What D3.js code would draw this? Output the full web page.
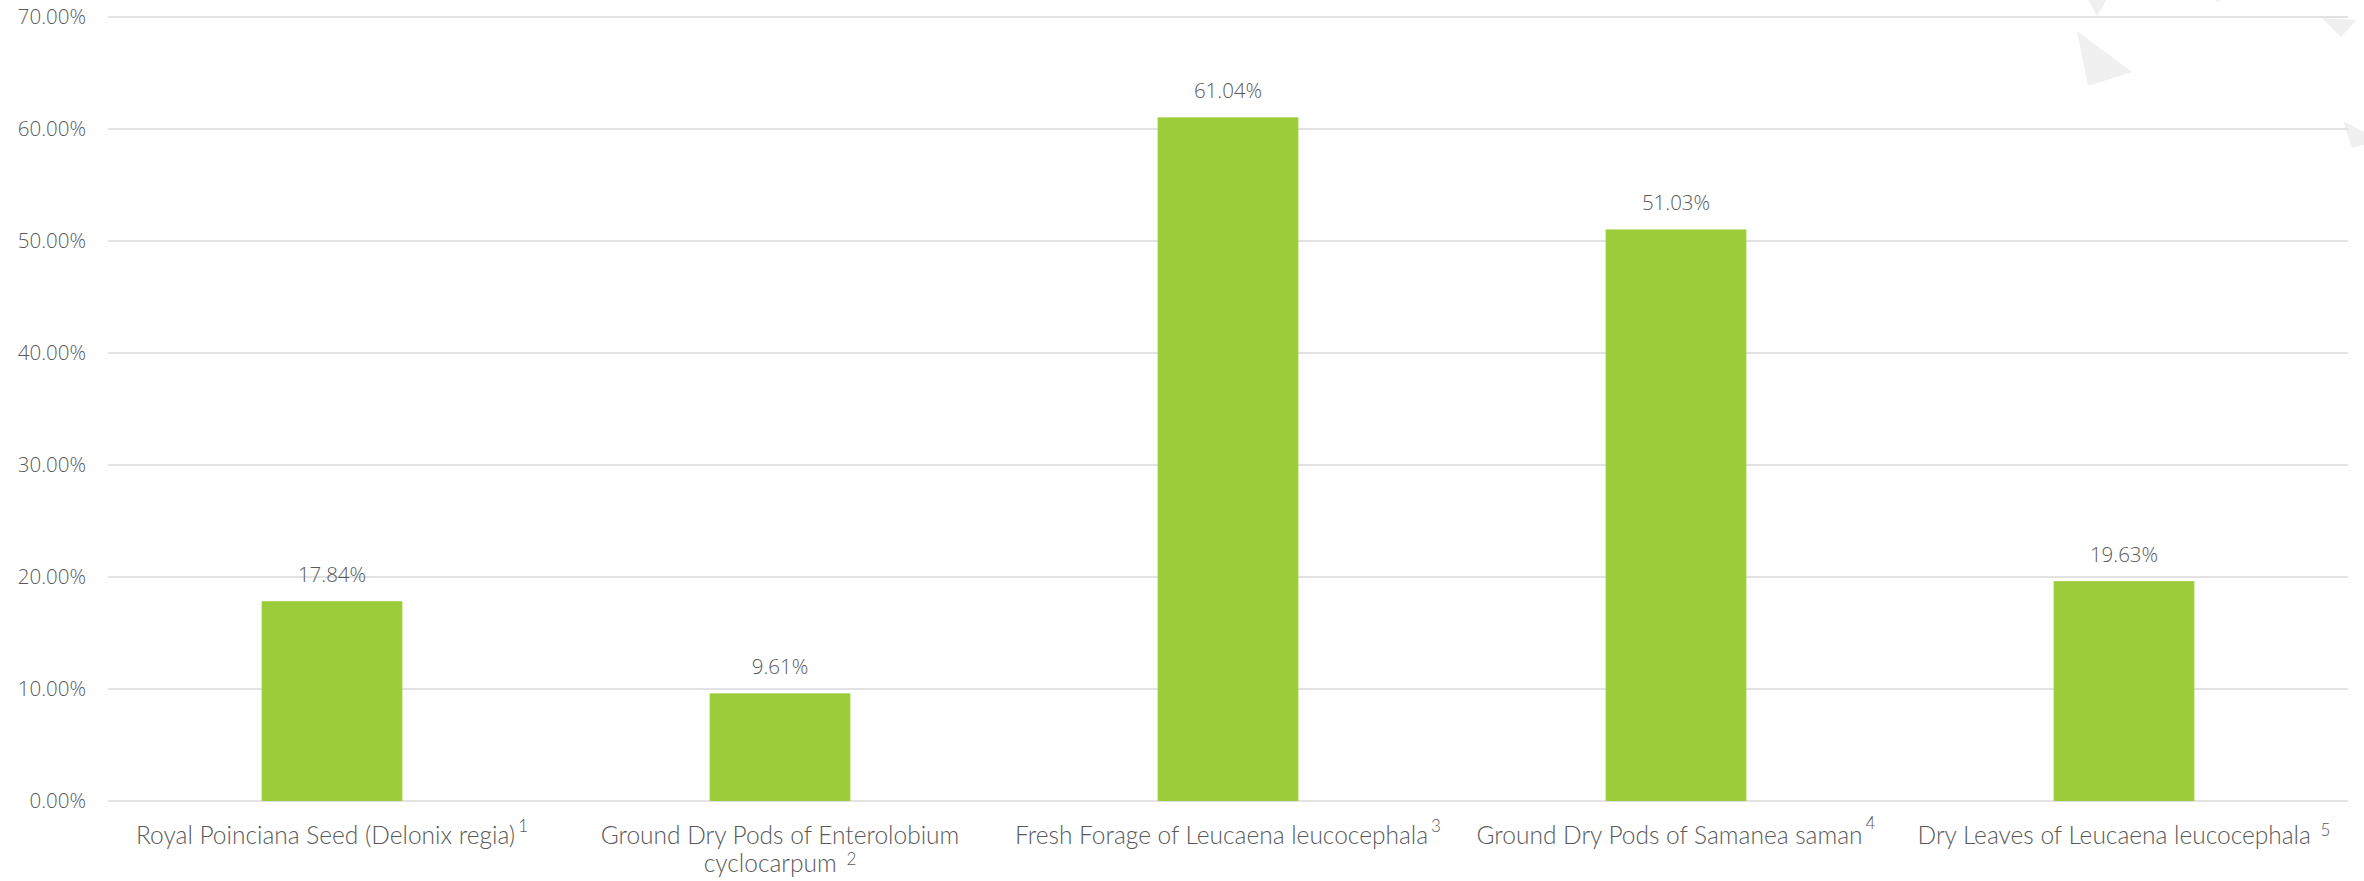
<!DOCTYPE html>
<html>
<head>
<meta charset="utf-8">
<script src="https://cdn.jsdelivr.net/npm/d3@7"></script>
<style>
  html, body { margin: 0; padding: 0; background: #ffffff; }
  svg { display: block; }
</style>
</head>
<body>
<svg id="chart" width="2364" height="881"></svg>
<script>
// Category names (each as lines of text) with their footnote markers
const categoryLines = [
  ["Royal Poinciana Seed (Delonix regia)"],
  ["Ground Dry Pods of Enterolobium", "cyclocarpum "],
  ["Fresh Forage of Leucaena leucocephala"],
  ["Ground Dry Pods of Samanea saman"],
  ["Dry Leaves of Leucaena leucocephala "]
];
const footnotes = ["1", "2", "3", "4", "5"];
const footnoteRaise = [12, 7, 12, 15, 8];

// Share of each material, as a fraction
const values = [0.1784, 0.0961, 0.6104, 0.5103, 0.1963];

// Y axis ticks
const yTicks = [0, 0.1, 0.2, 0.3, 0.4, 0.5, 0.6, 0.7];

const svg = d3.select("#chart");
const margin = { left: 108, right: 16, top: 17, bottom: 80 };
const W = 2364, H = 881;

// light decorative triangles in the top-right corner
const deco = [
  [[2085, -6], [2110, -6], [2097, 16]],
  [[2211, -2], [2223, -2], [2218, 2]],
  [[2077, 31], [2132, 72], [2088, 86]],
  [[2322, 18], [2356, 20], [2341, 37]],
  [[2343, 121], [2370, 135], [2370, 143], [2352, 148]]
];
svg.append("g").selectAll("polygon").data(deco).join("polygon")
  .attr("points", d => d.map(p => p.join(",")).join(" "))
  .attr("fill", "#f0f0f0");

const x = d3.scaleBand()
  .domain(d3.range(values.length))
  .range([margin.left, W - margin.right])
  .paddingInner(0.686)
  .paddingOuter(0.343);

const y = d3.scaleLinear()
  .domain([0, 0.7])
  .range([801, margin.top]);

// gridlines
svg.append("g").selectAll("line").data(yTicks).join("line")
  .attr("x1", margin.left)
  .attr("x2", W - margin.right)
  .attr("y1", d => y(d))
  .attr("y2", d => y(d))
  .attr("stroke", "#d9d9d9")
  .attr("stroke-width", 1.5);

// y axis labels
const yAxis = d3.axisLeft(y)
  .tickValues(yTicks)
  .tickFormat(d3.format(".2%"))
  .tickSize(0)
  .tickPadding(22);
const yG = svg.append("g")
  .attr("transform", `translate(${margin.left},0)`)
  .call(yAxis);
yG.select(".domain").remove();
yG.selectAll("text")
  .attr("fill", "#595959")
  .style("font-family", "'Open Sans', sans-serif")
  .style("font-weight", 300)
  .style("font-size", "20.5px");

// bars
svg.append("g").selectAll("rect").data(values).join("rect")
  .attr("x", (d, i) => x(i))
  .attr("width", x.bandwidth())
  .attr("y", d => y(d))
  .attr("height", d => y(0) - y(d))
  .attr("fill", "#9bcc3a");

// value labels
svg.append("g").selectAll("text").data(values).join("text")
  .attr("x", (d, i) => x(i) + x.bandwidth() / 2)
  .attr("y", d => y(d) - 19)
  .attr("text-anchor", "middle")
  .attr("fill", "#595959")
  .style("font-family", "'Open Sans', sans-serif")
  .style("font-weight", 300)
  .style("font-size", "20.5px")
  .text(d3.format(".2%"));

// category labels with superscript footnotes
const catG = svg.append("g")
  .style("font-family", "Lato, sans-serif")
  .style("font-weight", 300)
  .attr("fill", "#595959");

categoryLines.forEach((lines, i) => {
  const cx = x(i) + x.bandwidth() / 2;
  lines.forEach((line, j) => {
    const t = catG.append("text")
      .attr("x", cx)
      .attr("y", 844 + j * 28)
      .attr("text-anchor", "middle")
      .style("font-size", "24.5px");
    t.append("tspan").text(line);
    if (j === lines.length - 1) {
      t.append("tspan")
        .attr("dx", 3)
        .attr("dy", -footnoteRaise[i])
        .style("font-size", "17px")
        .text(footnotes[i]);
    }
  });
});
</script>
</body>
</html>
